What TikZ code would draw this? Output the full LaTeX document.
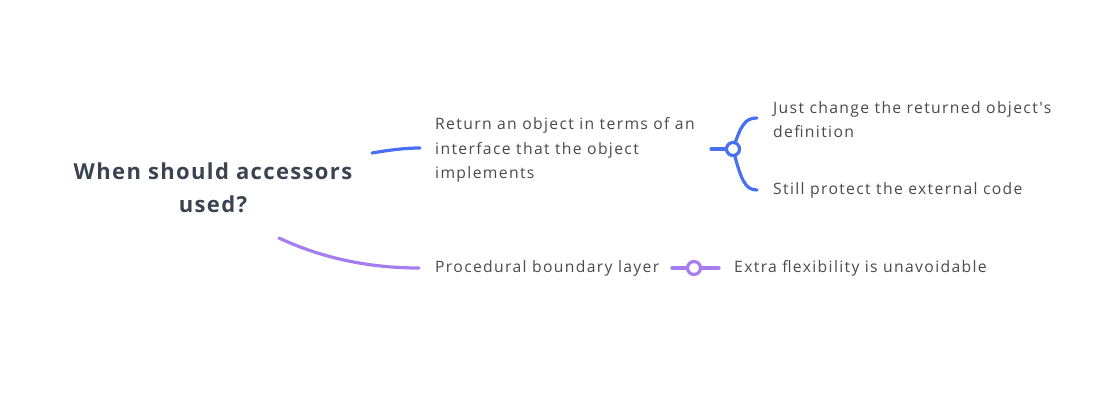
\documentclass[tikz,border=0pt]{standalone}
\usepackage{fontspec}
\setmainfont{Open Sans}
\newfontfamily\titlefont[LetterSpace=6.2]{Open Sans}
\newfontfamily\leaffont[LetterSpace=8.6]{Open Sans}
\definecolor{titlec}{HTML}{3A4350}
\definecolor{textc}{HTML}{4A4A4A}
\definecolor{bluec}{HTML}{4870F2}
\definecolor{purplec}{HTML}{A67DEF}
\tikzset{
  title/.style={font=\titlefont\fontsize{22}{33}\selectfont\bfseries, text=titlec, align=center, inner sep=0pt},
  leaf/.style={font=\leaffont\fontsize{15.7}{24.5}\selectfont, text=textc, align=left, inner sep=0pt, anchor=west},
  bline/.style={draw=bluec, line width=3.2pt, line cap=round},
  pline/.style={draw=purplec, line width=3.2pt, line cap=round},
  knob/.style={circle, minimum size=13pt, inner sep=0pt, fill=white, line width=3.2pt},
}
\begin{document}
\begin{tikzpicture}[x=1pt,y=-1pt]
\useasboundingbox (0,0) rectangle (1112,403);
\node[title] (root) at (213,188) {When should accessors\\used?};
\node[leaf] (ret) at (435,150) {Return an object in terms of an\\interface that the object\\implements};
\node[leaf] (just) at (773,119.5) {Just change the returned object's\\definition};
\node[leaf] (still) at (773,190) {Still protect the external code};
\node[leaf] (proc) at (435,268) {Procedural boundary layer};
\node[leaf] (extra) at (734,268) {Extra flexibility is unavoidable};
\coordinate (b0) at (372,153);
\coordinate (b1) at (420,148);
\coordinate (p0) at (279,238);
\coordinate (p1) at (419,268);
\coordinate (bk0) at (711,149);
\coordinate (bu) at (757,118);
\coordinate (bd) at (757,190);
\coordinate (pk0) at (672,268);
\coordinate (pk1) at (719,268);
\draw[bline] (b0) .. controls (390,150) and (405,148) .. (b1);
\draw[pline] (p0) .. controls (330,262) and (380,268) .. (p1);
\draw[bline] (bk0) -- (733,149);
\draw[bline] (733,149) .. controls (741,125) and (745,118) .. (bu);
\draw[bline] (733,149) .. controls (741,180) and (745,190) .. (bd);
\node[knob, draw=bluec] (bknob) at (733,149) {};
\draw[pline] (pk0) -- (pk1);
\node[knob, draw=purplec] (pknob) at (694,268) {};
\end{tikzpicture}
\end{document}
